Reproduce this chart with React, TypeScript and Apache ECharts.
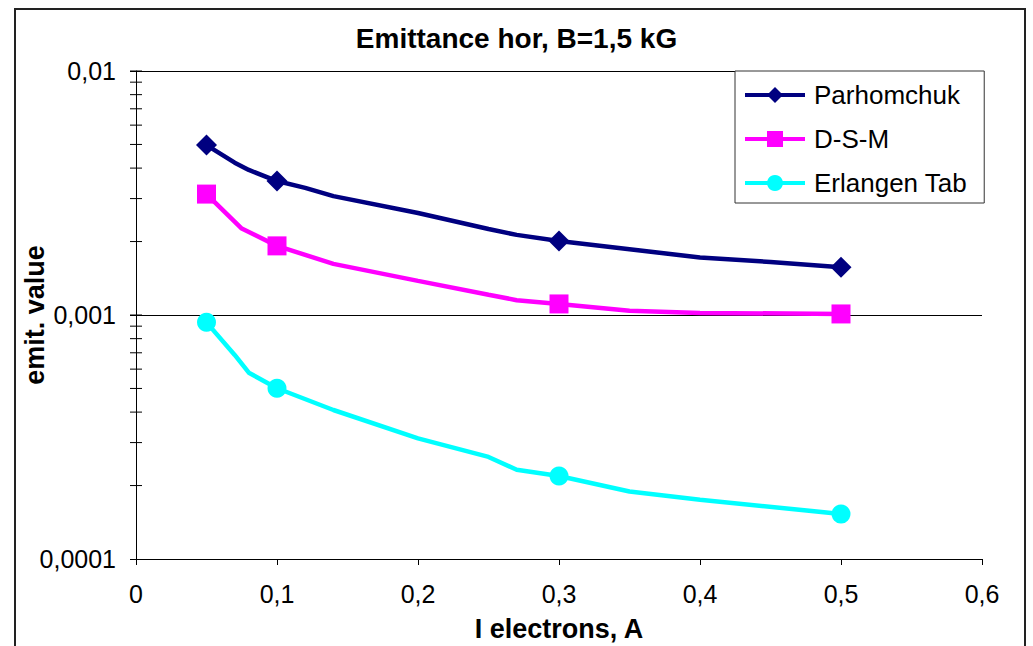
import React, { useEffect, useRef } from "react";
import * as echarts from "echarts";

const FONT = "'Liberation Sans', Arial, sans-serif";

// Beam current, A, and emittance values for each model
const parhomchukX = [0.05, 0.07, 0.08, 0.1, 0.12, 0.14, 0.2, 0.25, 0.27, 0.3, 0.35, 0.4, 0.45, 0.5];
const parhomchukY = [0.00497, 0.00421, 0.00393, 0.00354, 0.00332, 0.00307, 0.00262, 0.00225, 0.00213, 0.00201, 0.00186, 0.00172, 0.00165, 0.00157];

const dsmX = [0.05, 0.075, 0.1, 0.14, 0.2, 0.25, 0.27, 0.3, 0.35, 0.4, 0.5];
const dsmY = [0.00313, 0.00226, 0.00192, 0.00162, 0.00138, 0.00121, 0.00115, 0.00111, 0.00104, 0.00102, 0.00101];

const erlangenX = [0.05, 0.07, 0.08, 0.1, 0.14, 0.2, 0.25, 0.27, 0.3, 0.35, 0.4, 0.5];
const erlangenY = [0.000933, 0.000686, 0.00058, 0.000501, 0.000408, 0.000312, 0.000262, 0.000232, 0.000219, 0.000189, 0.000175, 0.000153];

// Currents at which the measurement markers are shown
const markedX = [0.05, 0.1, 0.3, 0.5];

// Minor (and major) log ticks that cross the vertical axis
const yCrossTicks = [
  0.0002, 0.0003, 0.0004, 0.0005, 0.0006, 0.0007, 0.0008, 0.0009,
  0.001, 0.002, 0.003, 0.004, 0.005, 0.006, 0.007, 0.008, 0.009, 0.01,
];

const seriesNames = ["Parhomchuk", "D-S-M", "Erlangen Tab"];
const seriesColors = ["#000080", "#FF00FF", "#00FFFF"];
const seriesSymbols = ["diamond", "rect", "circle"];

function buildData(xs: number[], ys: number[]) {
  return xs.map((x, i) =>
    markedX.includes(x) ? { value: [x, ys[i]] } : { value: [x, ys[i]], symbol: "none" }
  );
}

const commaNum = (v: number) => String(Number(v.toPrecision(6))).replace(".", ",");

export default function App() {
  const ref = useRef<HTMLDivElement>(null);

  useEffect(() => {
    if (!ref.current) return;
    const chart = echarts.init(ref.current, null, { renderer: "svg" });

    const datasets = [
      buildData(parhomchukX, parhomchukY),
      buildData(dsmX, dsmY),
      buildData(erlangenX, erlangenY),
    ];

    const lineSeries = seriesNames.map((name, i) => ({
      name,
      type: "line",
      data: datasets[i],
      symbol: seriesSymbols[i],
      symbolSize: i === 0 ? 21 : 19,
      showSymbol: true,
      showAllSymbol: true,
      smooth: false,
      lineStyle: { color: seriesColors[i], width: 4.5 },
      itemStyle: { color: seriesColors[i] },
      z: 3 + (2 - i),
    }));

    chart.setOption({
      animation: false,
      backgroundColor: "#ffffff",
      textStyle: { fontFamily: FONT },
      title: {
        text: "Emittance hor, B=1,5 kG",
        left: "center",
        top: 24,
        padding: [0, 0, 0, 7],
        textStyle: { fontFamily: FONT, fontSize: 28, fontWeight: "bold", color: "#000" },
      },
      graphic: [
        {
          type: "rect",
          shape: { x: 15, y: 9, width: 1010, height: 700 },
          style: { fill: "none", stroke: "#222", lineWidth: 2 },
          silent: true,
          z: -1,
        },
      ],
      legend: {
        orient: "vertical",
        left: 735,
        top: 71,
        data: seriesNames,
        itemWidth: 60,
        itemHeight: 20,
        itemGap: 16,
        padding: [10, 17, 6, 8],
        borderColor: "#333",
        borderWidth: 1,
        backgroundColor: "#fff",
        lineStyle: { width: 4 },
        textStyle: { fontFamily: FONT, fontSize: 26, color: "#000", lineHeight: 28, padding: [0, 0, 0, 4] },
      },
      grid: { left: 136, right: 51, top: 71, bottom: 87, outerBoundsMode: "none", containLabel: false },
      xAxis: {
        type: "value",
        min: 0,
        max: 0.6,
        interval: 0.1,
        name: "I electrons, A",
        nameLocation: "middle",
        nameGap: 56,
        nameMoveOverlap: false,
        nameTextStyle: { fontFamily: FONT, fontSize: 27, fontWeight: "bold", color: "#000" },
        axisLine: { lineStyle: { color: "#000", width: 1 } },
        axisTick: { show: true, length: 6, lineStyle: { color: "#000" } },
        axisLabel: { fontFamily: FONT, fontSize: 25, color: "#000", margin: 22, formatter: (v: number) => commaNum(v) },
        splitLine: { show: false },
      },
      yAxis: {
        type: "log",
        logBase: 10,
        min: 0.0001,
        max: 0.01,
        name: "emit. value",
        nameLocation: "middle",
        nameGap: 88,
        nameRotate: 90,
        nameMoveOverlap: false,
        nameTextStyle: { fontFamily: FONT, fontSize: 27, fontWeight: "bold", color: "#000" },
        axisLine: { lineStyle: { color: "#000", width: 1 } },
        axisTick: { show: true, length: 6, lineStyle: { color: "#000" } },
        axisLabel: { fontFamily: FONT, fontSize: 25, color: "#000", margin: 20, formatter: (v: number) => commaNum(v) },
        splitLine: { show: true, lineStyle: { color: "#000", width: 1 } },
      },
      series: [
        ...lineSeries,
        {
          name: "axisCrossTicks",
          type: "custom",
          clip: false,
          silent: true,
          data: yCrossTicks.map((v) => [0, v]),
          renderItem: (_params: any, api: any) => {
            const p = api.coord([api.value(0), api.value(1)]);
            return {
              type: "line",
              shape: { x1: p[0] - 6, y1: p[1], x2: p[0] + 6, y2: p[1] },
              style: { stroke: "#000", lineWidth: 1 },
            };
          },
          z: 2,
        },
      ],
    });

    return () => chart.dispose();
  }, []);

  return (
    <div
      ref={ref}
      style={{ position: "absolute", left: 0, top: 0, width: 1033, height: 646, background: "#fff" }}
    />
  );
}
